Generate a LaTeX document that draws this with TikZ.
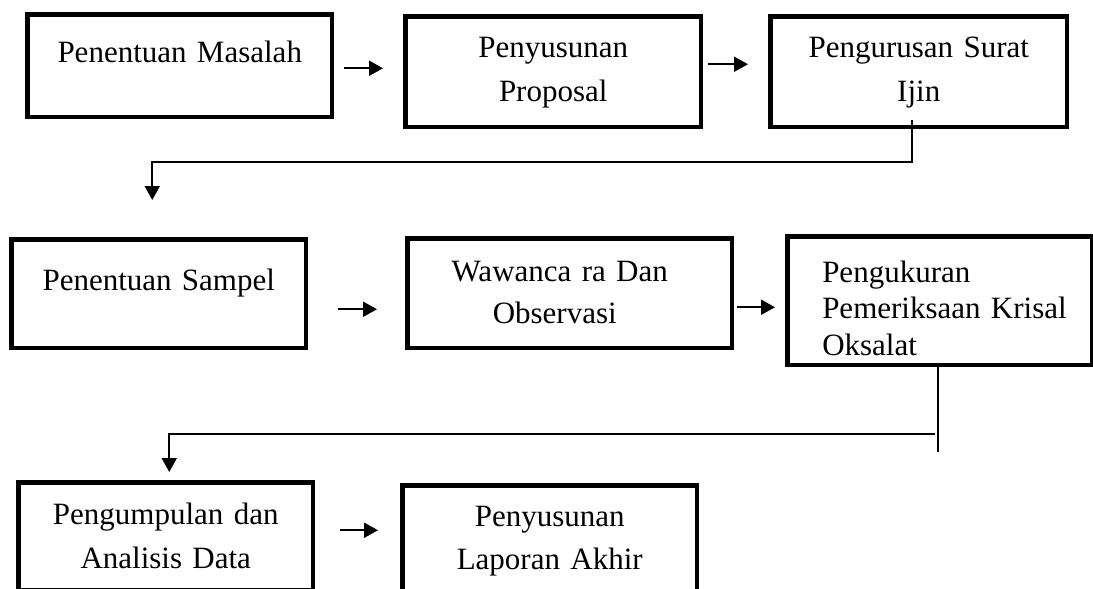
\documentclass[tikz,border=0pt]{standalone}
\usepackage{fontspec}
\setmainfont{Liberation Serif}
\usetikzlibrary{arrows.meta}
\tikzset{
  box/.style={draw, line width=4.5pt, inner sep=0pt, anchor=north west,
    align=center, font={\fontsize{31}{44}\selectfont}},
  link/.style={line width=2pt},
  arrow/.style={link, -{Triangle[length=14pt, width=15pt]}}
}

\begin{document}
\begin{tikzpicture}[x=1pt, y=-1pt]

  \useasboundingbox (0, 0) rectangle (1093, 589);
  \clip (0, 0) rectangle (1093, 589);

  % row 1
  \node[box, text width=304.5pt, text height=47.75pt, text depth=54.75pt]
    (masalah) at (25.25, 12.25) {Penentuan Masalah};
  \node[box, text width=295.5pt, text height=40.75pt, text depth=69.75pt]
    (proposal) at (403.25, 14.25) {Penyusunan\\Proposal};
  \node[box, text width=296.5pt, text height=40.75pt, text depth=69.75pt]
    (surat) at (768.25, 14.25) {Pengurusan Surat\\Ijin};

  % row 2
  \node[box, text width=294.5pt, text height=50.75pt, text depth=57.75pt]
    (sampel) at (9.25, 237.25) {Penentuan Sampel};
  \node[box, text width=324.5pt, text height=42.75pt, text depth=66.75pt,
    font={\fontsize{31}{42}\selectfont}]
    (wawancara) at (405.25, 236.25)
    {Wawanca ra Dan\hspace*{20pt}\mbox{}\\Observasi\hspace*{30pt}\mbox{}};
  \node[box, align=left, text width=304.75pt, text height=45.75pt, text depth=82.75pt,
    font={\fontsize{31}{36.5}\selectfont}]
    (oksalat) at (785.25, 234.25)
    {\hspace*{34.75pt}Pengukuran\\\hspace*{34.75pt}Pemeriksaan Krisal\\\hspace*{34.75pt}Oksalat};

  % row 3
  \node[box, text width=294.5pt, text height=41.5pt, text depth=66pt]
    (analisis) at (16.25, 480.25) {Pengumpulan dan\\Analisis Data};
  \node[box, text width=294.5pt, text height=40.75pt, text depth=69.25pt,
    font={\fontsize{31}{43}\selectfont}]
    (laporan) at (400.25, 483.25) {Penyusunan\\Laporan Akhir};

  % arrows
  \draw[arrow, shorten <=9.25pt, shorten >=20.25pt]
    ([yshift=-2.5pt]masalah.east) -- ([yshift=-2.5pt]masalah.east -| proposal.west);
  \draw[arrow, shorten <=4.25pt, shorten >=20.25pt]
    ([yshift=7.5pt]proposal.east) -- ([yshift=7.5pt]proposal.east -| surat.west);
  \draw[arrow] ([xshift=-6.5pt, yshift=9.75pt]surat.south) -- ++(0, 42)
    -| ([xshift=-6.5pt, yshift=37.25pt]sampel.north);

  \draw[arrow, shorten <=29.25pt, shorten >=28.25pt]
    ([yshift=-15.5pt]sampel.east) -- ([yshift=-15.5pt]sampel.east -| wawancara.west);
  \draw[arrow, shorten <=2.25pt, shorten >=10.25pt]
    ([yshift=-14pt]wawancara.east) -- ([yshift=-14pt]wawancara.east -| oksalat.west);

  \draw[link] ([xshift=-1.5pt]oksalat.south) -- ++(0, 85);
  \coordinate (turn) at ([xshift=-4.5pt, yshift=-66.25pt]oksalat.south);
  \draw[arrow] (turn) -| ([xshift=3.5pt, yshift=8.25pt]analisis.north);

  \draw[arrow, shorten <=24.25pt, shorten >=22.25pt]
    ([yshift=6pt]analisis.east) -- ([yshift=6pt]analisis.east -| laporan.west);

\end{tikzpicture}
\end{document}
